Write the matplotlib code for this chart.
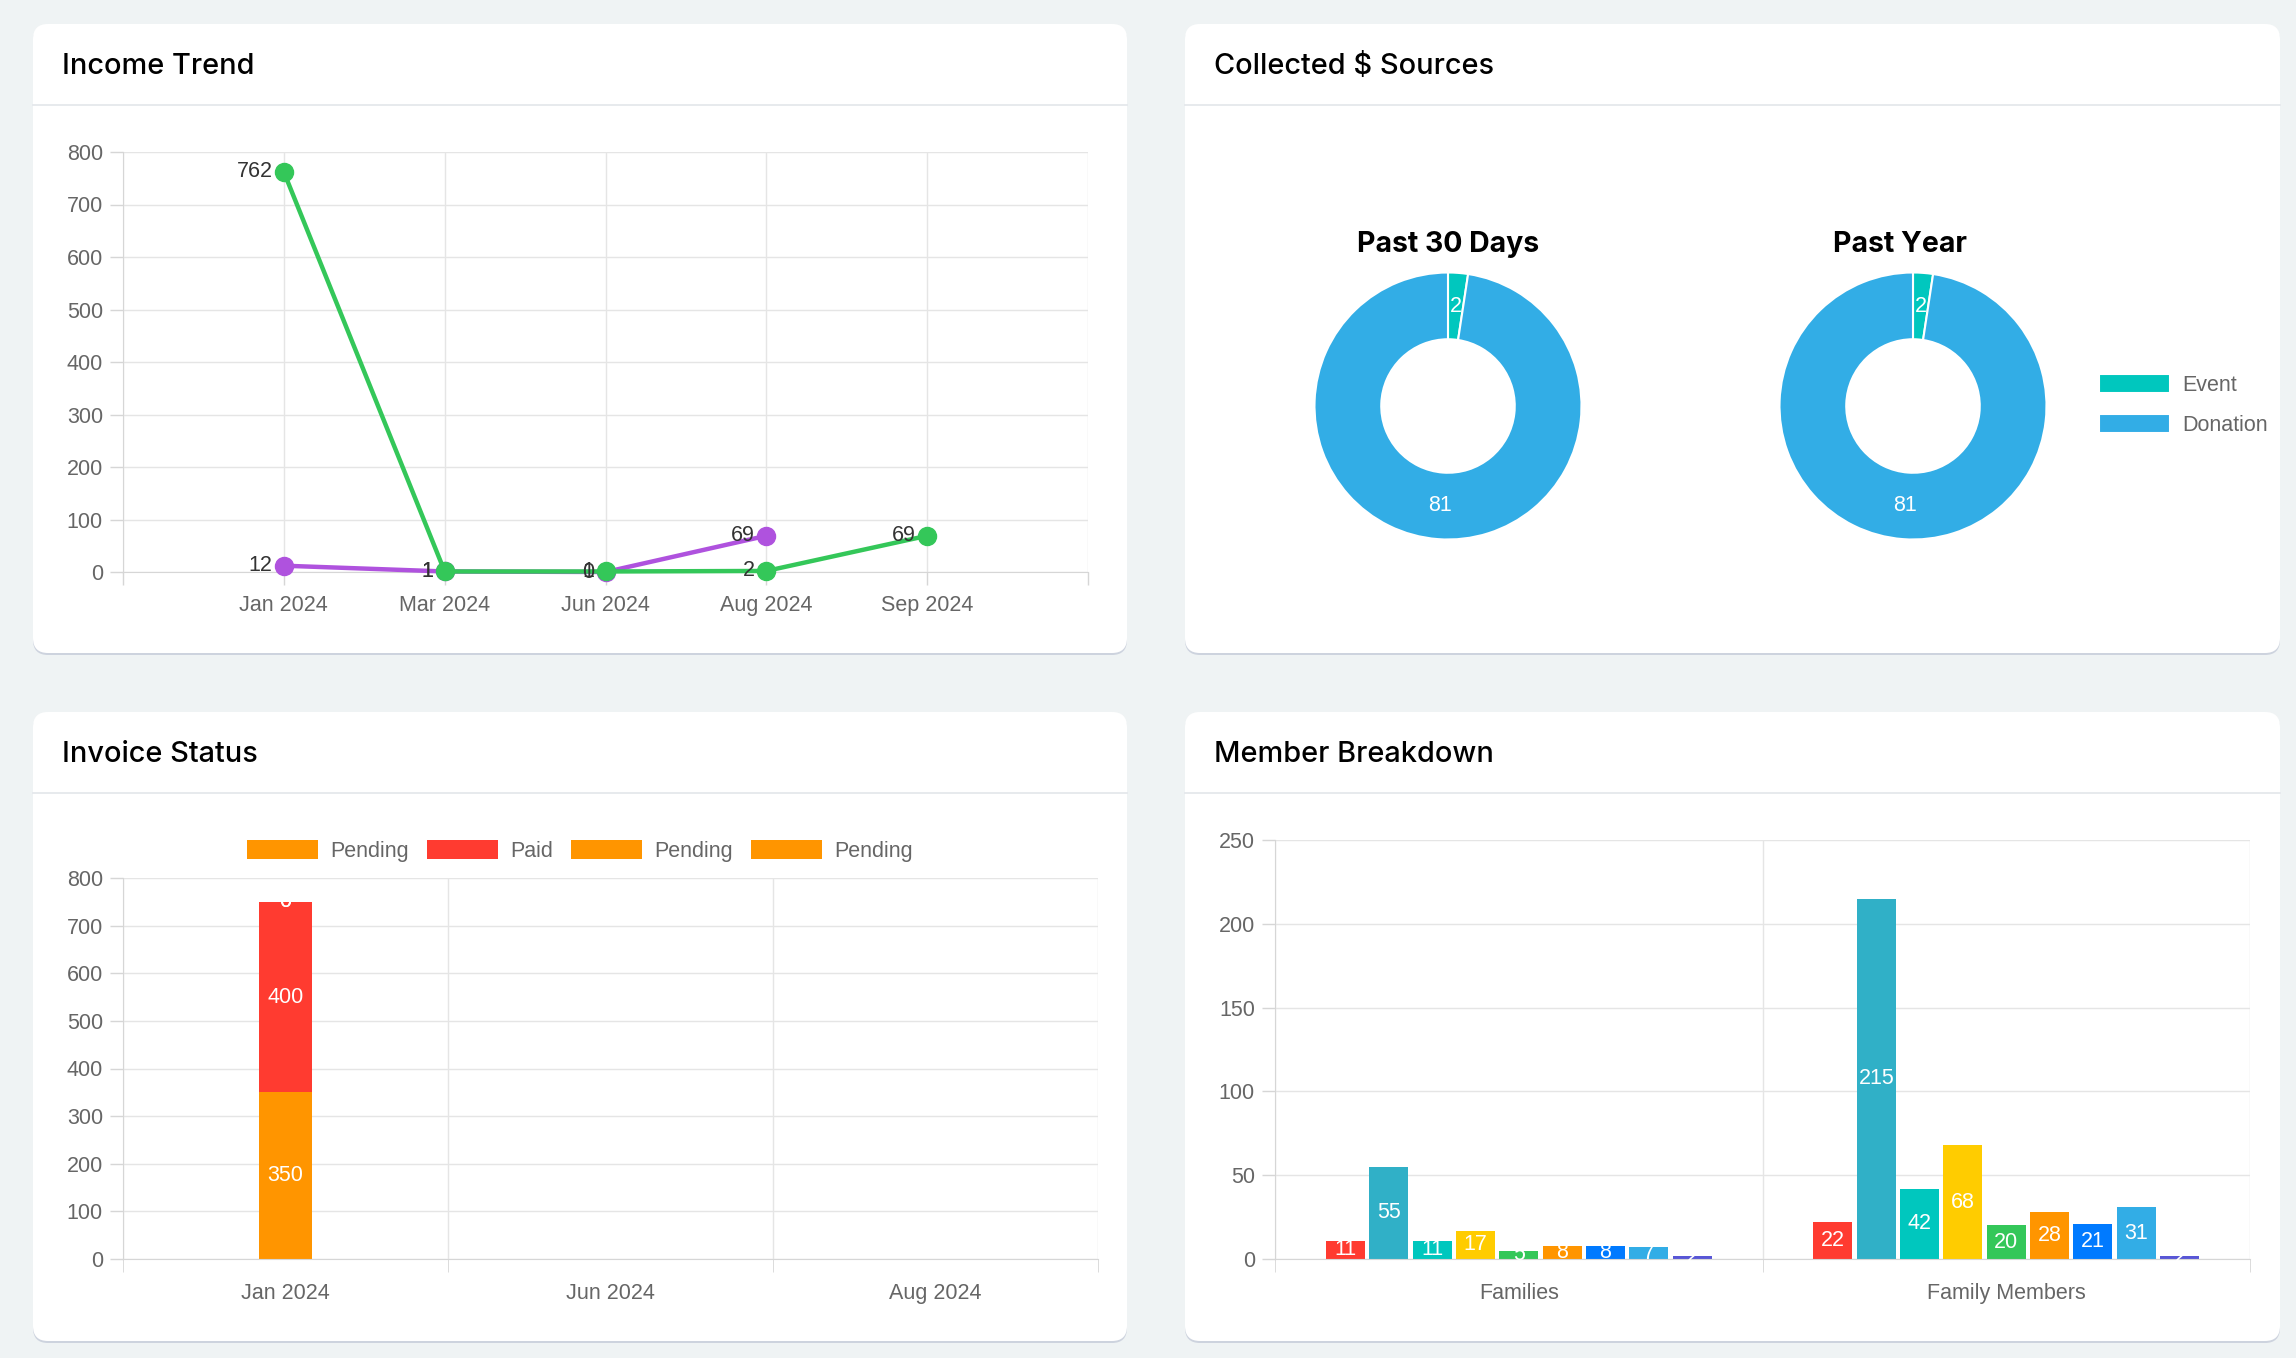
import matplotlib.pyplot as plt
from matplotlib.patches import FancyBboxPatch
import numpy as np

W, H = 2296, 1358

# Income Trend
income_months = ['Jan 2024', 'Mar 2024', 'Jun 2024', 'Aug 2024', 'Sep 2024']
income_purple = [12, 1, 0, 69]
income_green = [762, 1, 1, 2, 69]

# Collected $ Sources
source_labels = ['Event', 'Donation']
source_30days = [2, 81]
source_year = [2, 81]
source_colors = ['#00c7be', '#32ade6']

# Invoice Status
invoice_months = ['Jan 2024', 'Jun 2024', 'Aug 2024']
invoice_labels = ['Pending', 'Paid', 'Pending', 'Pending']
invoice_values = [[350, 0, 0], [400, 0, 0], [0, 0, 0], [0, 0, 0]]
invoice_colors = ['#ff9500', '#ff3b30', '#ff9500', '#ff9500']

# Member Breakdown
member_groups = ['Families', 'Family Members']
member_values = [[11, 22], [55, 215], [11, 42], [17, 68], [5, 20],
                 [8, 28], [8, 21], [7, 31], [2, 2]]
member_colors = ['#ff3b30', '#30b0c7', '#00c7be', '#ffcc00', '#34c759',
                 '#ff9500', '#007aff', '#32ade6', '#5856d6']

FONT = ['Liberation Sans', 'DejaVu Sans']
TFONT = ['Inter', 'DejaVu Sans']
FS = 15.5
TICK = '#666666'
GRID = '#e5e5e5'
SPINE = '#d6d6d6'
plt.rcParams['font.family'] = FONT

fig = plt.figure(figsize=(W / 100, H / 100), dpi=100, facecolor='#eff3f4')


def frac(x0, y0, x1, y1):
    return [x0 / W, 1 - y1 / H, (x1 - x0) / W, (y1 - y0) / H]


# background layer in pixel coordinates
bg = fig.add_axes([0, 0, 1, 1])
bg.set_xlim(0, W)
bg.set_ylim(H, 0)
bg.axis('off')

cards = [(33, 24, 1127, 653), (1185, 24, 2280, 653),
         (33, 712, 1127, 1341), (1185, 712, 2280, 1341)]
titles = ['Income Trend', 'Collected \\$ Sources', 'Invoice Status', 'Member Breakdown']
for (x0, y0, x1, y1), t in zip(cards, titles):
    shadow = FancyBboxPatch((x0, y0 + 2), x1 - x0, y1 - y0,
                            boxstyle='round,pad=0,rounding_size=15',
                            fc='#cdd3de', ec='none')
    bg.add_patch(shadow)
    card = FancyBboxPatch((x0, y0), x1 - x0, y1 - y0,
                          boxstyle='round,pad=0,rounding_size=15',
                          fc='white', ec='none')
    bg.add_patch(card)
    bg.plot([x0, x1], [y0 + 81, y0 + 81], color='#e3e6ea', lw=1.2)
    bg.text(x0 + 29, y0 + 50, t, fontsize=20.8, family=TFONT, fontweight='medium',
            color='black', va='baseline')


def style_axes(ax):
    ax.set_facecolor('none')
    for s in ['top', 'right']:
        ax.spines[s].set_visible(False)
    ax.spines['left'].set_color(SPINE)
    ax.spines['bottom'].set_color(SPINE)
    ax.tick_params(axis='both', colors=SPINE, labelcolor=TICK, labelsize=FS,
                   length=9.4, width=1)
    ax.tick_params(axis='y', pad=5)
    ax.tick_params(axis='x', pad=7)
    ax.grid(True, color=GRID, lw=1)
    ax.set_axisbelow(True)


# ---- Income Trend
ax1 = fig.add_axes(frac(123, 152, 1088, 572))
style_axes(ax1)
ax1.set_xlim(-1, 5)
ax1.set_ylim(0, 800)
ax1.set_yticks(range(0, 801, 100))
ax1.set_xticks(range(-1, 6))
ax1.set_xticklabels([''] + income_months + [''])
xp = np.arange(len(income_purple))
xg = np.arange(len(income_green))
ax1.plot(xp, income_purple, color='#af52de', lw=3.2, marker='o', ms=13, clip_on=False, zorder=3)
ax1.plot(xg, income_green, color='#34c759', lw=3.2, marker='o', ms=13, clip_on=False, zorder=4)
for xs, ys in [(xp, income_purple), (xg, income_green)]:
    for x, y in zip(xs, ys):
        ax1.annotate(str(y), (x, y), xytext=(-8, 0), textcoords='offset points',
                     ha='right', va='center', fontsize=FS, color='#333333', zorder=5)

# ---- Collected $ Sources
for cx, tx, data, name in [(1448, 1448, source_30days, 'Past 30 Days'),
                           (1913, 1900, source_year, 'Past Year')]:
    r = 133.5
    ax = fig.add_axes(frac(cx - r, 406 - r, cx + r, 406 + r))
    wedges, _ = ax.pie(data, colors=source_colors, startangle=90, counterclock=False,
                       radius=1, wedgeprops=dict(width=0.5, edgecolor='white', linewidth=1.5))
    ax.set_xlim(-1, 1)
    ax.set_ylim(-1, 1)
    for w, v in zip(wedges, data):
        a = np.deg2rad((w.theta1 + w.theta2) / 2)
        ax.text(0.75 * np.cos(a), 0.75 * np.sin(a), str(v), ha='center', va='center',
                fontsize=FS, color='white')
    bg.text(tx, 252, name, ha='center', va='baseline', fontsize=20.5, fontweight='bold',
            family=TFONT, color='black')
    last_wedges = wedges

fig.legend(last_wedges, source_labels, loc='upper left',
           bbox_to_anchor=(2099 / W, 1 - 374 / H), frameon=False, fontsize=FS,
           labelcolor=TICK, handlelength=3.3, handleheight=0.95, handletextpad=0.55,
           labelspacing=0.85, borderpad=0, borderaxespad=0)

# ---- Invoice Status
ax3 = fig.add_axes(frac(123, 878, 1098, 1259))
style_axes(ax3)
ax3.set_xlim(-0.5, 2.5)
ax3.set_ylim(0, 800)
ax3.set_yticks(range(0, 801, 100))
xi = np.arange(len(invoice_months))
ax3.set_xticks(xi)
ax3.set_xticklabels(invoice_months)
ax3.set_xticks(np.arange(-0.5, 2.6, 1), minor=True)
ax3.tick_params(axis='x', which='major', length=0, pad=17)
ax3.tick_params(axis='x', which='minor', length=9.4, color=SPINE)
ax3.grid(False, axis='x', which='major')
ax3.grid(True, axis='x', which='minor', color=GRID, lw=1)
bottom = np.zeros(len(invoice_months))
for vals, lab, col in zip(invoice_values, invoice_labels, invoice_colors):
    ax3.bar(xi, vals, width=0.165, bottom=bottom, color=col, label=lab, zorder=2)
    for x, v, b in zip(xi, vals, bottom):
        if v > 0 or b > 0:
            ax3.text(x, b + v / 2, str(v), ha='center', va='center', fontsize=FS,
                     color='white', zorder=3)
    bottom = bottom + np.array(vals)
ax3.legend(loc='center', bbox_to_anchor=(580 / W, 1 - 851 / H),
           bbox_transform=fig.transFigure, ncol=4, frameon=False, fontsize=FS,
           labelcolor=TICK, handlelength=3.3, handleheight=0.95, handletextpad=0.55,
           columnspacing=0.85)

# ---- Member Breakdown
ax4 = fig.add_axes(frac(1275, 840, 2250, 1259))
style_axes(ax4)
ax4.set_xlim(-0.5, 1.5)
ax4.set_ylim(0, 250)
ax4.set_yticks(range(0, 251, 50))
xm = np.arange(len(member_groups))
ax4.set_xticks(xm)
ax4.set_xticklabels(member_groups)
ax4.set_xticks(np.arange(-0.5, 1.6, 1), minor=True)
ax4.tick_params(axis='x', which='major', length=0, pad=17)
ax4.tick_params(axis='x', which='minor', length=9.4, color=SPINE)
ax4.grid(False, axis='x', which='major')
ax4.grid(True, axis='x', which='minor', color=GRID, lw=1)
n = len(member_values)
slot = 0.8 / n
for i, (vals, col) in enumerate(zip(member_values, member_colors)):
    xs = xm + (i - (n - 1) / 2) * slot
    ax4.bar(xs, vals, width=slot * 0.9, color=col, zorder=2)
    for x, v in zip(xs, vals):
        ax4.text(x, v / 2, str(v), ha='center', va='center', fontsize=FS,
                 color='white', zorder=3)

fig.savefig('out.png', dpi=100, facecolor=fig.get_facecolor())
